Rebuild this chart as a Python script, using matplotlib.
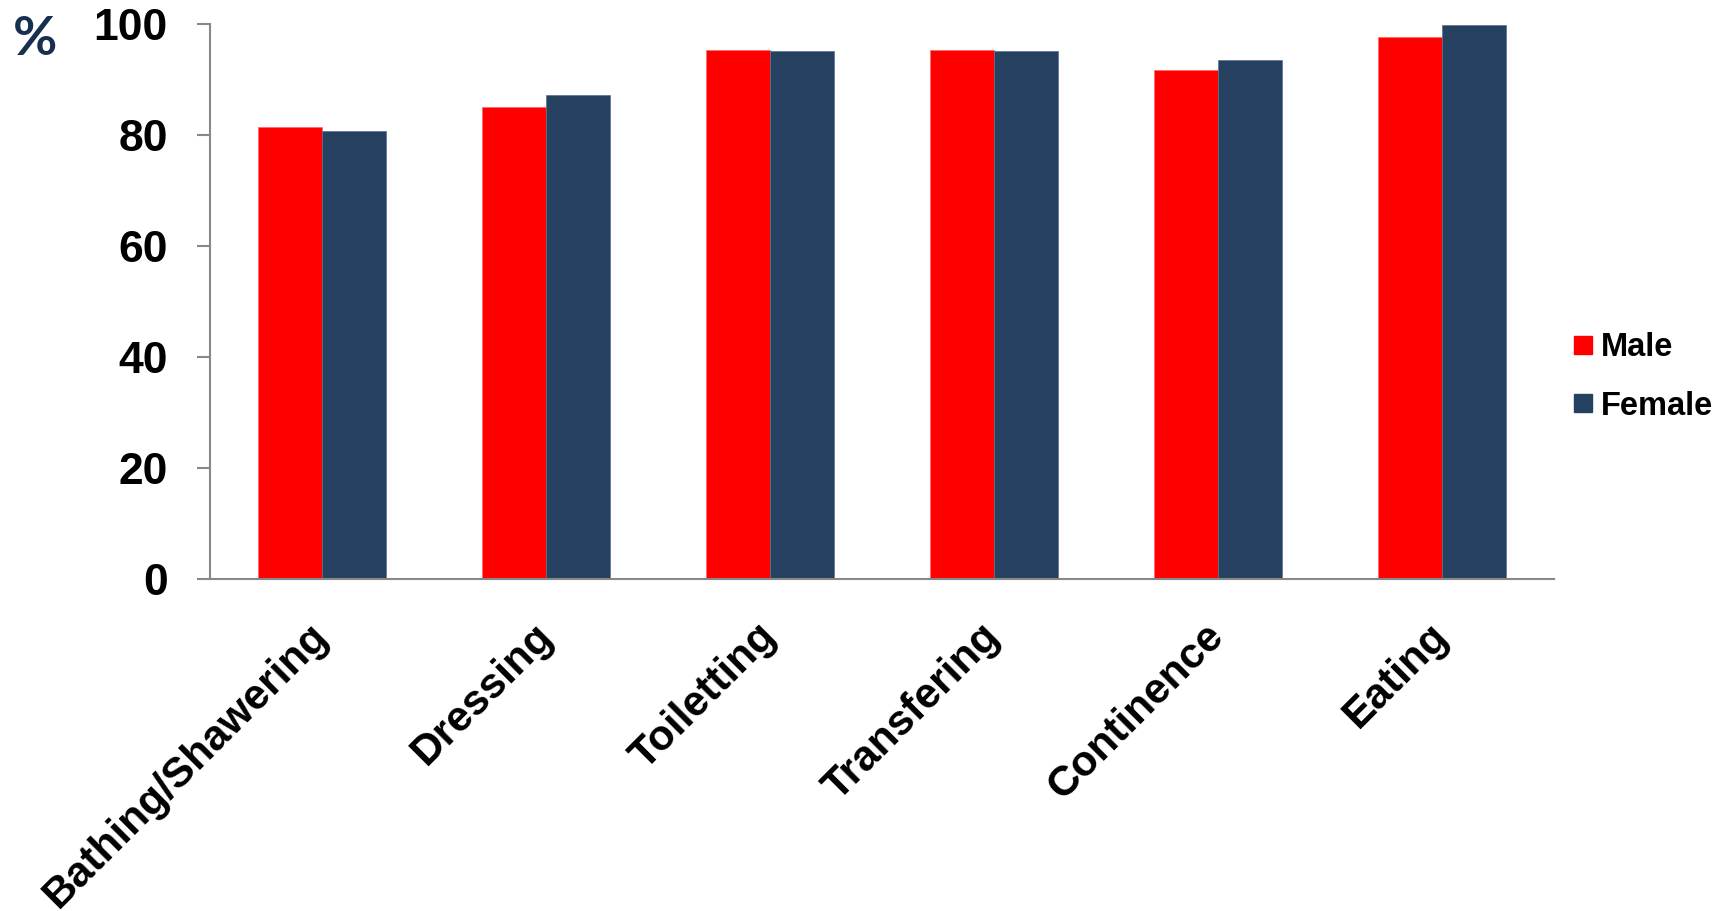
import numpy as np
import matplotlib
matplotlib.use('Agg')
import matplotlib.pyplot as plt
from matplotlib.lines import Line2D

# ── Data ──────────────────────────────────────────────────────────────────────
categories = ['Bathing/Shawering', 'Dressing', 'Toiletting', 'Transfering',
              'Continence', 'Eating']
male   = [81.5, 85.0, 95.3, 95.3, 91.8, 97.6]
female = [80.8, 87.2, 95.1, 95.1, 93.5, 99.9]
series_names = ['Male', 'Female']
y_ticks = [0, 20, 40, 60, 80, 100]

# ── Style ─────────────────────────────────────────────────────────────────────
RED   = '#ff0000'
NAVY  = '#264060'
AXIS  = '#888888'
FONT  = ['Liberation Sans', 'DejaVu Sans']

plt.rcParams['font.family'] = FONT
plt.rcParams['font.weight'] = 'bold'

W, H = 1727, 911
fig = plt.figure(figsize=(W / 100, H / 100), dpi=100)
ax = fig.add_axes([210 / W, 1 - 579 / H, 1344 / W, 555 / H])

x = np.arange(len(categories))
bw = 0.2857
ax.bar(x - bw / 2, male, width=bw, color=RED, edgecolor='#ff6666', linewidth=0.5)
ax.bar(x + bw / 2, female, width=bw, color=NAVY, edgecolor='#5a7090', linewidth=0.5)

ax.set_xlim(-0.5, len(categories) - 0.5)
ax.set_ylim(0, 100)
ax.set_yticks(y_ticks)
ax.set_yticklabels([str(v) for v in y_ticks])
ax.set_xticks(x)
ax.set_xticklabels(categories, rotation=45, ha='right', va='center',
                   rotation_mode='anchor', fontsize=30.5, fontweight='bold')

for s in ('top', 'right'):
    ax.spines[s].set_visible(False)
for s in ('left', 'bottom'):
    ax.spines[s].set_color(AXIS)
    ax.spines[s].set_linewidth(1.5)

ax.tick_params(axis='y', direction='out', length=9.4, width=1.5, color=AXIS,
               pad=21, labelsize=32)
ax.tick_params(axis='x', length=0, pad=37)

# ── "%" unit label ────────────────────────────────────────────────────────────
fig.text(13 / W, 1 - 55 / H, '%', fontsize=39, fontweight='bold',
         color='#17304f', ha='left', va='baseline',
         family=['Lato', 'DejaVu Sans'])

# ── Legend ────────────────────────────────────────────────────────────────────
handles = [Line2D([], [], marker='s', linestyle='None', color=c,
                  markersize=12.5) for c in (RED, NAVY)]
fig.legend(handles, series_names, loc='center left',
           bbox_to_anchor=(1557 / W, 1 - 377 / H), frameon=False,
           borderpad=0, handlelength=0.6, handletextpad=0.25,
           labelspacing=0.85, prop={'size': 23.5, 'weight': 'bold'})

fig.savefig('out.png', dpi=100, facecolor='white')
